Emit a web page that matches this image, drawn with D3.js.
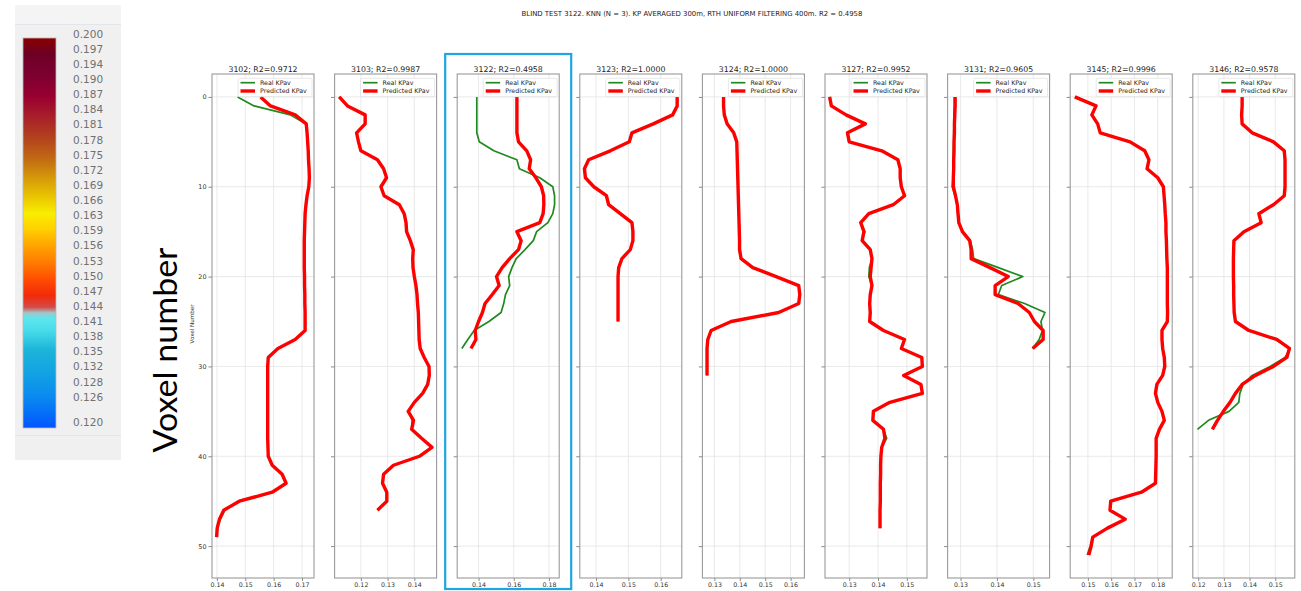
<!DOCTYPE html>
<html>
<head>
<meta charset="utf-8">
<script src="https://cdn.jsdelivr.net/npm/d3@7"></script>
<style>
body { margin: 0; background: #fff; }
svg { display: block; font-family: "DejaVu Sans", sans-serif; }
</style>
</head>
<body>
<svg id="chart" width="1301" height="591"></svg>
<script>
var chartTitle = "BLIND TEST 3122. KNN (N = 3). KP AVERAGED 300m, RTH UNIFORM FILTERING 400m. R2 = 0.4958";
var wellIds = ["3102", "3103", "3122", "3123", "3124", "3127", "3131", "3145", "3146"];
var wellR2 = ["0.9712", "0.9987", "0.4958", "1.0000", "1.0000", "0.9952", "0.9605", "0.9996", "0.9578"];
var blindWell = "3122";
var yTicks = [0, 10, 20, 30, 40, 50];
var legendLabels = ["Real KPav", "Predicted KPav"];

// colour bar tick labels (left inset)
var colorbarLabels = ["0.200", "0.197", "0.194", "0.190", "0.187", "0.184", "0.181", "0.178", "0.175",
    "0.172", "0.169", "0.166", "0.163", "0.159", "0.156", "0.153", "0.150", "0.147", "0.144", "0.141",
    "0.138", "0.135", "0.132", "0.128", "0.126", "0.120"];

var xTicks3102 = [0.14, 0.15, 0.16, 0.17];
var real3102 = [0.1473, 0.1531, 0.1659, 0.1713, 0.1718, 0.1720, 0.1722, 0.1723, 0.1725, 0.1726,
    0.1724, 0.1718, 0.1714, 0.1711, 0.1710, 0.1709, 0.1708, 0.1708, 0.1708, 0.1708,
    0.1709, 0.1709, 0.1710, 0.1710, 0.1711, 0.1711, 0.1711, 0.1676, 0.1615, 0.1581,
    0.1579, 0.1579, 0.1579, 0.1579, 0.1579, 0.1579, 0.1579, 0.1579, 0.1579, 0.1580,
    0.1581, 0.1595, 0.1630, 0.1644, 0.1595, 0.1475, 0.1428, 0.1412, 0.1401, 0.1399];
var pred3102 = [0.1554, 0.1589, 0.1676, 0.1715, 0.1718, 0.1720, 0.1722, 0.1723, 0.1725, 0.1726,
    0.1724, 0.1718, 0.1714, 0.1711, 0.1710, 0.1709, 0.1708, 0.1708, 0.1708, 0.1708,
    0.1709, 0.1709, 0.1710, 0.1710, 0.1711, 0.1711, 0.1711, 0.1676, 0.1615, 0.1581,
    0.1579, 0.1579, 0.1579, 0.1579, 0.1579, 0.1579, 0.1579, 0.1579, 0.1579, 0.1580,
    0.1581, 0.1595, 0.1630, 0.1644, 0.1595, 0.1479, 0.1424, 0.1409, 0.1401, 0.1399];

var xTicks3103 = [0.12, 0.13, 0.14];
var real3103 = [0.1119, 0.1150, 0.1216, 0.1216, 0.1184, 0.1191, 0.1200, 0.1262, 0.1285, 0.1296,
    0.1275, 0.1287, 0.1344, 0.1362, 0.1369, 0.1371, 0.1385, 0.1396, 0.1394, 0.1395,
    0.1400, 0.1406, 0.1410, 0.1412, 0.1415, 0.1416, 0.1417, 0.1418, 0.1422, 0.1437,
    0.1455, 0.1456, 0.1450, 0.1431, 0.1400, 0.1380, 0.1392, 0.1390, 0.1427, 0.1466,
    0.1419, 0.1322, 0.1285, 0.1281, 0.1297, 0.1297, 0.1262];
var pred3103 = [0.1119, 0.1150, 0.1216, 0.1216, 0.1184, 0.1191, 0.1200, 0.1262, 0.1285, 0.1296,
    0.1275, 0.1287, 0.1344, 0.1362, 0.1369, 0.1371, 0.1385, 0.1396, 0.1394, 0.1395,
    0.1400, 0.1406, 0.1410, 0.1412, 0.1415, 0.1416, 0.1417, 0.1418, 0.1422, 0.1437,
    0.1455, 0.1456, 0.1450, 0.1431, 0.1400, 0.1377, 0.1397, 0.1390, 0.1427, 0.1466,
    0.1419, 0.1322, 0.1285, 0.1281, 0.1297, 0.1297, 0.1262];

var xTicks3122 = [0.14, 0.16, 0.18];
var real3122 = [0.1390, 0.1390, 0.1390, 0.1390, 0.1390, 0.1404, 0.1487, 0.1618, 0.1632, 0.1748,
    0.1822, 0.1832, 0.1832, 0.1822, 0.1794, 0.1730, 0.1711, 0.1664, 0.1614, 0.1590,
    0.1571, 0.1577, 0.1553, 0.1543, 0.1528, 0.1459, 0.1375, 0.1339, 0.1305];
var pred3122 = [0.1618, 0.1618, 0.1618, 0.1618, 0.1618, 0.1627, 0.1674, 0.1696, 0.1688, 0.1726,
    0.1757, 0.1770, 0.1771, 0.1767, 0.1748, 0.1618, 0.1642, 0.1627, 0.1577, 0.1534,
    0.1502, 0.1517, 0.1478, 0.1437, 0.1422, 0.1400, 0.1381, 0.1385, 0.1357];

var xTicks3123 = [0.14, 0.15, 0.16];
var real3123 = [0.1651, 0.1651, 0.1637, 0.1577, 0.1511, 0.1503, 0.1444, 0.1377, 0.1364, 0.1367,
    0.1393, 0.1432, 0.1439, 0.1475, 0.1511, 0.1514, 0.1514, 0.1506, 0.1480, 0.1470,
    0.1468, 0.1468, 0.1468, 0.1468, 0.1468, 0.1468];
var pred3123 = [0.1651, 0.1651, 0.1637, 0.1577, 0.1511, 0.1503, 0.1444, 0.1377, 0.1364, 0.1367,
    0.1393, 0.1432, 0.1439, 0.1475, 0.1511, 0.1514, 0.1514, 0.1506, 0.1480, 0.1470,
    0.1468, 0.1468, 0.1468, 0.1468, 0.1468, 0.1468];

var xTicks3124 = [0.13, 0.14, 0.15, 0.16];
var real3124 = [0.1336, 0.1336, 0.1339, 0.1350, 0.1376, 0.1388, 0.1389, 0.1390, 0.1391, 0.1392,
    0.1393, 0.1394, 0.1395, 0.1396, 0.1397, 0.1398, 0.1399, 0.1399, 0.1405, 0.1451,
    0.1543, 0.1632, 0.1636, 0.1632, 0.1553, 0.1366, 0.1287, 0.1274, 0.1271, 0.1271,
    0.1271, 0.1271];
var pred3124 = [0.1336, 0.1336, 0.1339, 0.1350, 0.1376, 0.1388, 0.1389, 0.1390, 0.1391, 0.1392,
    0.1393, 0.1394, 0.1395, 0.1396, 0.1397, 0.1398, 0.1399, 0.1399, 0.1405, 0.1451,
    0.1543, 0.1632, 0.1636, 0.1632, 0.1553, 0.1366, 0.1287, 0.1274, 0.1271, 0.1271,
    0.1271, 0.1271];

var xTicks3127 = [0.13, 0.14, 0.15];
var real3127 = [0.1232, 0.1238, 0.1289, 0.1356, 0.1294, 0.1300, 0.1413, 0.1469, 0.1477, 0.1477,
    0.1481, 0.1495, 0.1453, 0.1368, 0.1340, 0.1354, 0.1345, 0.1373, 0.1379, 0.1370,
    0.1368, 0.1379, 0.1373, 0.1371, 0.1373, 0.1371, 0.1419, 0.1492, 0.1481, 0.1552,
    0.1554, 0.1489, 0.1549, 0.1554, 0.1441, 0.1384, 0.1382, 0.1419, 0.1430, 0.1413,
    0.1410, 0.1409, 0.1409, 0.1408, 0.1408, 0.1408, 0.1407, 0.1407, 0.1407];
var pred3127 = [0.1232, 0.1238, 0.1289, 0.1356, 0.1294, 0.1300, 0.1413, 0.1469, 0.1477, 0.1477,
    0.1481, 0.1492, 0.1453, 0.1368, 0.1340, 0.1351, 0.1345, 0.1373, 0.1379, 0.1376,
    0.1373, 0.1379, 0.1373, 0.1371, 0.1373, 0.1371, 0.1419, 0.1492, 0.1481, 0.1552,
    0.1554, 0.1489, 0.1549, 0.1554, 0.1441, 0.1384, 0.1382, 0.1419, 0.1424, 0.1413,
    0.1410, 0.1409, 0.1409, 0.1408, 0.1408, 0.1408, 0.1407, 0.1407, 0.1407];

var xTicks3131 = [0.13, 0.14, 0.15];
var real3131 = [0.1283, 0.1283, 0.1282, 0.1282, 0.1281, 0.1281, 0.1280, 0.1280, 0.1279, 0.1279,
    0.1277, 0.1285, 0.1290, 0.1292, 0.1295, 0.1307, 0.1327, 0.1333, 0.1336, 0.1404,
    0.1471, 0.1413, 0.1404, 0.1476, 0.1532, 0.1521, 0.1525, 0.1516, 0.1498];
var pred3131 = [0.1285, 0.1285, 0.1284, 0.1283, 0.1283, 0.1282, 0.1282, 0.1281, 0.1281, 0.1280,
    0.1280, 0.1286, 0.1291, 0.1293, 0.1295, 0.1305, 0.1325, 0.1329, 0.1329, 0.1381,
    0.1431, 0.1395, 0.1395, 0.1458, 0.1489, 0.1503, 0.1527, 0.1527, 0.1498];

var xTicks3145 = [0.15, 0.16, 0.17, 0.18];
var real3145 = [0.1444, 0.1535, 0.1517, 0.1542, 0.1553, 0.1681, 0.1744, 0.1762, 0.1754, 0.1800,
    0.1824, 0.1827, 0.1830, 0.1832, 0.1835, 0.1835, 0.1837, 0.1838, 0.1839, 0.1841,
    0.1841, 0.1841, 0.1841, 0.1841, 0.1842, 0.1841, 0.1818, 0.1818, 0.1821, 0.1828,
    0.1830, 0.1821, 0.1796, 0.1790, 0.1800, 0.1818, 0.1828, 0.1807, 0.1793, 0.1793,
    0.1793, 0.1792, 0.1791, 0.1790, 0.1730, 0.1598, 0.1595, 0.1660, 0.1584, 0.1521,
    0.1510, 0.1497];
var pred3145 = [0.1444, 0.1535, 0.1517, 0.1542, 0.1553, 0.1681, 0.1744, 0.1762, 0.1754, 0.1800,
    0.1824, 0.1827, 0.1830, 0.1832, 0.1835, 0.1835, 0.1837, 0.1838, 0.1839, 0.1841,
    0.1841, 0.1841, 0.1841, 0.1841, 0.1842, 0.1841, 0.1818, 0.1818, 0.1821, 0.1828,
    0.1830, 0.1821, 0.1796, 0.1790, 0.1800, 0.1818, 0.1828, 0.1807, 0.1793, 0.1793,
    0.1793, 0.1792, 0.1791, 0.1790, 0.1730, 0.1598, 0.1595, 0.1660, 0.1584, 0.1521,
    0.1514, 0.1504];

var xTicks3146 = [0.12, 0.13, 0.14, 0.15];
var real3146 = [0.1371, 0.1371, 0.1369, 0.1371, 0.1410, 0.1493, 0.1535, 0.1538, 0.1538, 0.1538,
    0.1538, 0.1535, 0.1493, 0.1436, 0.1445, 0.1378, 0.1339, 0.1338, 0.1337, 0.1337,
    0.1337, 0.1338, 0.1338, 0.1339, 0.1340, 0.1345, 0.1397, 0.1500, 0.1558, 0.1538,
    0.1480, 0.1410, 0.1375, 0.1362, 0.1358, 0.1320, 0.1240, 0.1197];
var pred3146 = [0.1371, 0.1371, 0.1369, 0.1371, 0.1410, 0.1493, 0.1535, 0.1538, 0.1538, 0.1538,
    0.1538, 0.1535, 0.1493, 0.1436, 0.1445, 0.1378, 0.1339, 0.1338, 0.1337, 0.1337,
    0.1337, 0.1338, 0.1338, 0.1339, 0.1340, 0.1345, 0.1397, 0.1506, 0.1555, 0.1545,
    0.1493, 0.1423, 0.1371, 0.1345, 0.1324, 0.1298, 0.1275, 0.1255];

var realSeries = [real3102, real3103, real3122, real3123, real3124, real3127, real3131, real3145, real3146];
var predSeries = [pred3102, pred3103, pred3122, pred3123, pred3124, pred3127, pred3131, pred3145, pred3146];
var tickSeries = [xTicks3102, xTicks3103, xTicks3122, xTicks3123, xTicks3124, xTicks3127, xTicks3131, xTicks3145, xTicks3146];

// layout
var panelLeft = 212;
var panelStep = 122.6;
var panelW = 102;
var plotTop = 74;
var plotH = 504;
var realColor = "#1f8a1f";
var predColor = "#ff0000";
var realWidth = 1.7;
var predWidth = 3.4;

var svg = d3.select("#chart");

// ---------- colour bar inset ----------
var cb = svg.append("g").attr("class", "colorbarInset");
cb.append("rect").attr("x", 15).attr("y", 5).attr("width", 106).attr("height", 455).style("fill", "#f0f0f0");
cb.append("rect").attr("x", 15).attr("y", 5).attr("width", 106).attr("height", 19).style("fill", "#f4f4f4");
cb.append("line").attr("x1", 15).attr("x2", 121).attr("y1", 24.5).attr("y2", 24.5).style("stroke", "#e2e6ea");
cb.append("line").attr("x1", 15).attr("x2", 121).attr("y1", 435.5).attr("y2", 435.5).style("stroke", "#e2e6ea");

var grad = svg.append("defs").append("linearGradient").attr("id", "kpGrad")
    .attr("x1", 0).attr("y1", 0).attr("x2", 0).attr("y2", 1);
var gradStops = [
    [0.00, "#8a0000"], [0.04, "#6e0024"], [0.09, "#7a0030"], [0.15, "#990030"],
    [0.20, "#a81e2a"], [0.26, "#b4441c"], [0.31, "#c26a12"], [0.36, "#d69a0a"],
    [0.41, "#eac800"], [0.45, "#f8ee00"], [0.49, "#ffd000"], [0.53, "#ffa600"],
    [0.58, "#ff7800"], [0.62, "#ff4c00"], [0.66, "#f22a0a"], [0.69, "#d44a48"],
    [0.705, "#a0c8cc"], [0.72, "#5ae6ee"], [0.75, "#48dcea"], [0.80, "#1cb4d8"],
    [0.86, "#12a2e4"], [0.92, "#0a8af0"], [1.00, "#0056ff"]];
grad.selectAll("stop").data(gradStops).enter().append("stop")
    .attr("offset", function (d) { return d[0]; })
    .attr("stop-color", function (d) { return d[1]; });

cb.append("rect").attr("x", 23).attr("y", 38).attr("width", 33).attr("height", 390)
    .style("fill", "url(#kpGrad)").style("stroke", "#b8b8b8").style("stroke-width", 0.8);

var cbScale = d3.scaleLinear().domain([0, colorbarLabels.length - 2]).range([34, 397]);
cb.selectAll("text.cbLabel").data(colorbarLabels).enter().append("text")
    .attr("class", "cbLabel")
    .attr("x", 73)
    .attr("y", function (d, i) {
        // the last label sits a bit further down, after a gap
        return i == colorbarLabels.length - 1 ? cbScale(i + 0.7) : cbScale(i);
    })
    .attr("dy", ".35em")
    .style("font-size", "10.5px").style("fill", "#707070")
    .text(function (d) { return d; });

// ---------- main title ----------
svg.append("text").attr("x", 692).attr("y", 16)
    .attr("text-anchor", "middle").style("font-size", "6.9px").style("fill", "#222")
    .text(chartTitle);

// ---------- shared y scale ----------
var maxVoxel = d3.max(predSeries.concat(realSeries), function (s) { return s.length - 1; });
var yPad = maxVoxel * 0.05;
var y = d3.scaleLinear().domain([-yPad, maxVoxel + yPad]).range([0, plotH]);

// highlight box round the blind well
var blindIndex = wellIds.indexOf(blindWell);
svg.append("rect")
    .attr("x", panelLeft + blindIndex * panelStep - 12).attr("y", 54)
    .attr("width", panelW + 24).attr("height", 535)
    .style("fill", "none").style("stroke", "#1ea6e2").style("stroke-width", 2.2);

wellIds.forEach(function (id, i) {
    var real = realSeries[i];
    var pred = predSeries[i];
    var ticks = tickSeries[i];

    var ext = d3.extent(real.concat(pred));
    var pad = (ext[1] - ext[0]) * 0.05;
    var x = d3.scaleLinear().domain([ext[0] - pad, ext[1] + pad]).range([0, panelW]);

    var g = svg.append("g").attr("class", "panel")
        .attr("transform", "translate(" + (panelLeft + i * panelStep) + "," + plotTop + ")");

    // grid
    g.append("g").selectAll("line").data(ticks).enter().append("line")
        .attr("x1", function (d) { return x(d); }).attr("x2", function (d) { return x(d); })
        .attr("y1", 0).attr("y2", plotH)
        .style("stroke", "#e3e3e3").style("stroke-width", 0.8);
    g.append("g").selectAll("line").data(yTicks).enter().append("line")
        .attr("x1", 0).attr("x2", panelW)
        .attr("y1", function (d) { return y(d); }).attr("y2", function (d) { return y(d); })
        .style("stroke", "#e3e3e3").style("stroke-width", 0.8);

    // axes
    var xAxis = g.append("g").attr("transform", "translate(0," + plotH + ")")
        .call(d3.axisBottom(x).tickValues(ticks).tickFormat(d3.format(".2f")).tickSize(3).tickPadding(2));
    xAxis.select(".domain").remove();
    xAxis.selectAll("line").style("stroke", "#555").style("stroke-width", 0.7);
    xAxis.selectAll("text").style("font-size", "6.3px").style("fill", "#333")
        .style("font-family", "DejaVu Sans");

    var yAxis = g.append("g")
        .call(d3.axisLeft(y).tickValues(yTicks).tickSize(3.5).tickPadding(2));
    yAxis.select(".domain").remove();
    yAxis.selectAll("line").style("stroke", "#555").style("stroke-width", 0.7);
    yAxis.selectAll("text").style("font-size", "6.4px").style("fill", "#333")
        .style("font-family", "DejaVu Sans")
        .style("display", i == 0 ? null : "none");

    // curves
    var line = d3.line()
        .x(function (d) { return x(d); })
        .y(function (d, j) { return y(j); });

    g.append("path").datum(real).attr("d", line)
        .style("fill", "none").style("stroke", realColor).style("stroke-width", realWidth)
        .style("stroke-linejoin", "round");
    g.append("path").datum(pred).attr("d", line)
        .style("fill", "none").style("stroke", predColor).style("stroke-width", predWidth)
        .style("stroke-linejoin", "round");

    // frame
    g.append("rect").attr("x", 0).attr("y", 0).attr("width", panelW).attr("height", plotH)
        .style("fill", "none").style("stroke", "#9a9a9a").style("stroke-width", 1.1);

    // title
    g.append("text").attr("x", panelW / 2).attr("y", -2.5)
        .attr("text-anchor", "middle").style("font-size", "7.8px").style("fill", "#222")
        .text(id + "; R2=" + wellR2[i]);

    // legend
    var leg = g.append("g").attr("transform", "translate(" + (panelW - 76) + ",4.3)");
    leg.append("rect").attr("width", 74).attr("height", 18.4).attr("rx", 1.5)
        .style("fill", "#fff").style("fill-opacity", 0.85)
        .style("stroke", "#d8d8d8").style("stroke-width", 0.6);
    var legItems = leg.selectAll("g").data(legendLabels).enter().append("g")
        .attr("transform", function (d, k) { return "translate(0," + (4.4 + k * 8.3) + ")"; });
    legItems.append("line").attr("x1", 2.5).attr("x2", 17)
        .style("stroke", function (d, k) { return k == 0 ? realColor : predColor; })
        .style("stroke-width", function (d, k) { return k == 0 ? realWidth : predWidth; });
    legItems.append("text").attr("x", 22).attr("dy", ".35em")
        .style("font-size", "6.3px").style("fill", "#222")
        .text(function (d) { return d; });
});

// y axis labels
svg.append("text")
    .attr("transform", "translate(193.5," + (plotTop + plotH / 2 - 2) + ") rotate(-90)")
    .attr("text-anchor", "middle").style("font-size", "5.6px").style("fill", "#333")
    .text("Voxel Number");

svg.append("text")
    .attr("transform", "translate(177,350) rotate(-90)")
    .attr("text-anchor", "middle")
    .attr("textLength", 205).attr("lengthAdjust", "spacingAndGlyphs")
    .style("font-family", "Lato, 'Open Sans', sans-serif").style("font-size", "33px").style("fill", "#000")
    .text("Voxel number");
</script>
</body>
</html>
